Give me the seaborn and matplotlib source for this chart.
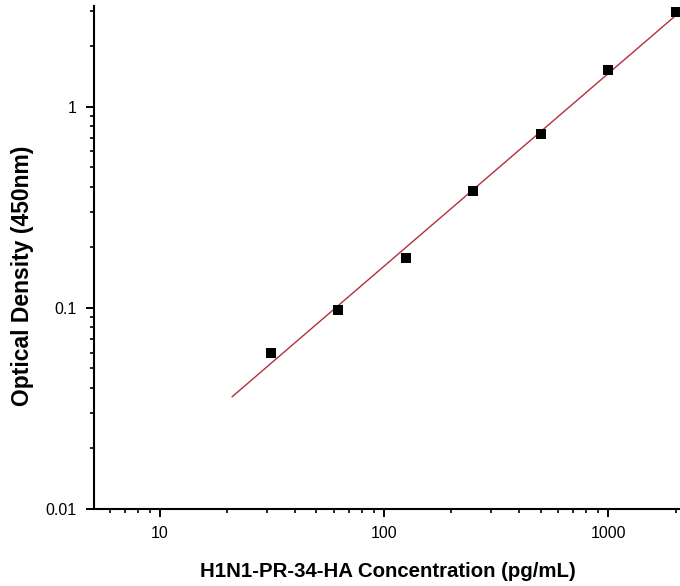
import numpy as np
import pandas as pd
import matplotlib
matplotlib.use("Agg")
import matplotlib.pyplot as plt
import matplotlib.ticker as mticker
import seaborn as sns

concentration = [31.25, 62.5, 125, 250, 500, 1000, 2000]
optical_density = [0.060, 0.098, 0.178, 0.38, 0.73, 1.53, 2.95]
fit_range = [21, 2000]
x_tick_values = [10, 100, 1000]
x_tick_labels = ["10", "100", "1000"]
y_tick_values = [0.01, 0.1, 1]
y_tick_labels = ["0.01", "0.1", "1"]

sns.set_theme(style="ticks")
plt.rcParams['font.family'] = ['Liberation Sans', 'DejaVu Sans']
plt.rcParams['text.color'] = 'black'
plt.rcParams['axes.labelcolor'] = 'black'
plt.rcParams['xtick.color'] = 'black'
plt.rcParams['ytick.color'] = 'black'

df = pd.DataFrame({"conc": concentration, "od": optical_density})

# log-log linear fit derived from the data
coef = np.polyfit(np.log10(df["conc"]), np.log10(df["od"]), 1)
fx = np.logspace(np.log10(fit_range[0]), np.log10(fit_range[1]), 100)
fit_df = pd.DataFrame({"conc": fx, "od": 10 ** np.polyval(coef, np.log10(fx))})

fig = plt.figure(figsize=(6.8, 5.86), dpi=100)
ax = fig.add_axes([0.138, 0.1314, 0.861, 0.8586])

sns.lineplot(data=fit_df, x="conc", y="od", ax=ax, color="#b2303c", linewidth=1.0)
sns.scatterplot(data=df, x="conc", y="od", ax=ax, marker="s", color="black",
                s=60, edgecolor="black", linewidth=0, zorder=5)

ax.set_xscale("log")
ax.set_yscale("log")
ax.set_xlim(5.08, 2080)
ax.set_ylim(0.01, 3.18)

ax.set_xticks(x_tick_values)
ax.set_xticklabels(x_tick_labels)
ax.set_yticks(y_tick_values)
ax.set_yticklabels(y_tick_labels)
ax.xaxis.set_minor_locator(mticker.LogLocator(base=10, subs=np.arange(2, 10)))
ax.yaxis.set_minor_locator(mticker.LogLocator(base=10, subs=np.arange(2, 10)))
ax.xaxis.set_minor_formatter(mticker.NullFormatter())
ax.yaxis.set_minor_formatter(mticker.NullFormatter())

ax.tick_params(which="major", length=5.8, width=1.4, color="black", labelcolor="black",
               labelsize=11.5, direction="out", pad=6.5)
ax.tick_params(which="minor", length=3, width=1.2, color="black", direction="out")

for side in ["top", "right"]:
    ax.spines[side].set_visible(False)
for side in ["left", "bottom"]:
    ax.spines[side].set_linewidth(1.5)
    ax.spines[side].set_color("black")

ax.set_xlabel("H1N1-PR-34-HA Concentration (pg/mL)", fontsize=14.7,
              fontweight="bold", color="black")
ax.set_ylabel("Optical Density (450nm)", fontsize=16.5, fontweight="bold",
              color="black")
ax.xaxis.set_label_coords(0.503, -0.105)
ax.yaxis.set_label_coords(-0.102, 0.463)

fig.savefig("out.png", dpi=100)
